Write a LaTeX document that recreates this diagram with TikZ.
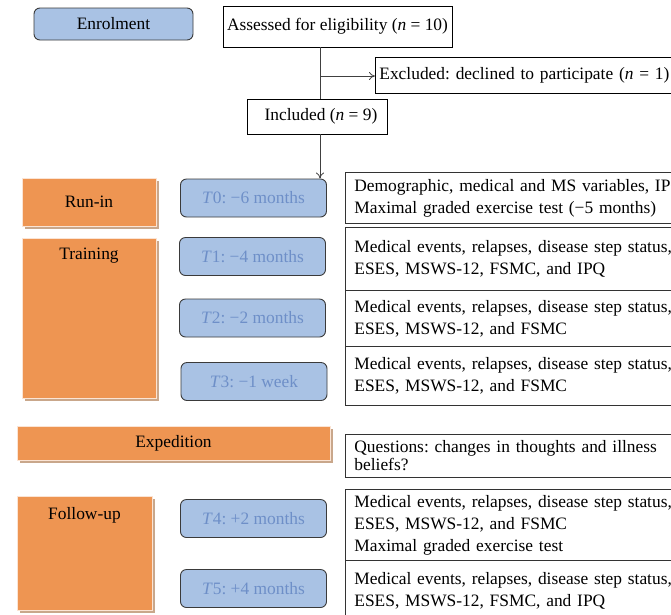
\documentclass[tikz,border=0pt]{standalone}
\usepackage{fontspec}
\setmainfont{Liberation Serif}
\usetikzlibrary{arrows.meta,shadows}
\definecolor{orangeF}{HTML}{EE9552}
\definecolor{tanS}{HTML}{C9A78B}
\definecolor{blueF}{HTML}{A9C2E4}
\definecolor{blueT}{HTML}{6E8FC8}
\definecolor{edgeC}{HTML}{3A3A3A}
\frenchspacing
\begin{document}
\begin{tikzpicture}[x=1pt,y=-1pt,
  every node/.style={font=\fontsize{17.4}{22}\selectfont},
  phase/.style={draw=white!75!orangeF, line width=0.8pt, fill=orangeF, inner sep=0pt,
    drop shadow={shadow xshift=2.5pt, shadow yshift=-2.5pt, fill=tanS, opacity=1}},
  tbox/.style={draw=edgeC, line width=0.9pt, fill=blueF, rounded corners=6pt,
    minimum width=146pt, minimum height=38pt, inner sep=0pt, text=blueT},
  flow/.style={draw=black, line width=0.8pt, fill=white, inner sep=0pt},
  info/.style={draw=black!80, line width=0.8pt, fill=white, anchor=north west,
    text width=345pt, align=left, inner xsep=9pt, inner ysep=0pt},
  conn/.style={draw=black!75, line width=0.8pt},
  tip/.style={-{To[length=6pt,width=8pt]}}]
\useasboundingbox (0,0) rectangle (671,614);
\clip (0,0) rectangle (671,614);

% enrolment
\node[draw=edgeC, line width=0.9pt, fill=blueF, rounded corners=6pt,
  minimum width=159pt, minimum height=32pt, inner sep=0pt] (enrol) at (113.5,24) {Enrolment};
\node[flow, minimum width=229pt, minimum height=41pt] (assess) at (337.5,26.5)
  {Assessed for eligibility (\textit{n} = 10)};
\node[flow, anchor=west, minimum width=330pt, minimum height=36pt, text width=322pt,
  align=left, inner xsep=4pt] (excl) at (375,75)
  {Excluded: declined to participate (\textit{n} = 1)};
\node[flow, minimum width=140pt, minimum height=35pt] (incl) at (317,116.5)
  {\hspace*{8pt}Included (\textit{n} = 9)};

\coordinate (top) at (320,0);
\coordinate (split) at (320,76);
\draw[conn] (assess.south -| top) -- (incl.north -| top);
\draw[conn,tip] (split) -- (split -| excl.west);

% phases
\node[phase, minimum width=134pt, minimum height=48pt] (runin) at (89,202) {Run-in};
\node[phase, minimum width=134pt, minimum height=160pt] (train) at (89,318) {};
\node[anchor=north] (trainT) at (89,244) {Training};
\node[phase, minimum width=313pt, minimum height=34pt] (exped) at (173.5,443) {Expedition};
\node[phase, minimum width=135pt, minimum height=114pt] (follow) at (84.5,553) {};
\node[anchor=north] (followT) at (84.5,504) {Follow-up};

% time points
\node[tbox] (t0) at (253.5,198) {\textit{T}0: −6 months};
\node[tbox] (t1) at (252.5,256.5) {\textit{T}1: −4 months};
\node[tbox] (t2) at (252.5,318) {\textit{T}2: −2 months};
\node[tbox] (t3) at (254,381.5) {\textit{T}3: −1 week};
\node[tbox] (t4) at (253.5,518.5) {\textit{T}4: +2 months};
\node[tbox] (t5) at (253.5,588.5) {\textit{T}5: +4 months};

\draw[conn,tip] (incl.south -| top) -- (t0.north -| top);

% information boxes
\node[info, minimum height=51pt] (i0) at (345,172)
  {Demographic, medical and MS variables, IPQ\\Maximal graded exercise test (−5 months)};
\node[info, minimum height=63pt] (i1) at (345,227)
  {Medical events, relapses, disease step status,\\ESES, MSWS-12, FSMC, and IPQ};
\node[info, minimum height=56pt] (i2) at (345,290)
  {Medical events, relapses, disease step status,\\ESES, MSWS-12, and FSMC};
\node[info, minimum height=59pt] (i3) at (345,346)
  {Medical events, relapses, disease step status,\\ESES, MSWS-12, and FSMC};
\node[info, minimum height=43pt, font=\fontsize{17.4}{18}\selectfont] (iq) at (345,434)
  {Questions: changes in thoughts and illness\\beliefs?};
\node[info, minimum height=71pt] (i4) at (345,489)
  {Medical events, relapses, disease step status,\\ESES, MSWS-12, and FSMC\\Maximal graded exercise test};
\node[info, minimum height=60pt] (i5) at (345,560)
  {Medical events, relapses, disease step status,\\ESES, MSWS-12, FSMC, and IPQ};
\end{tikzpicture}
\end{document}
